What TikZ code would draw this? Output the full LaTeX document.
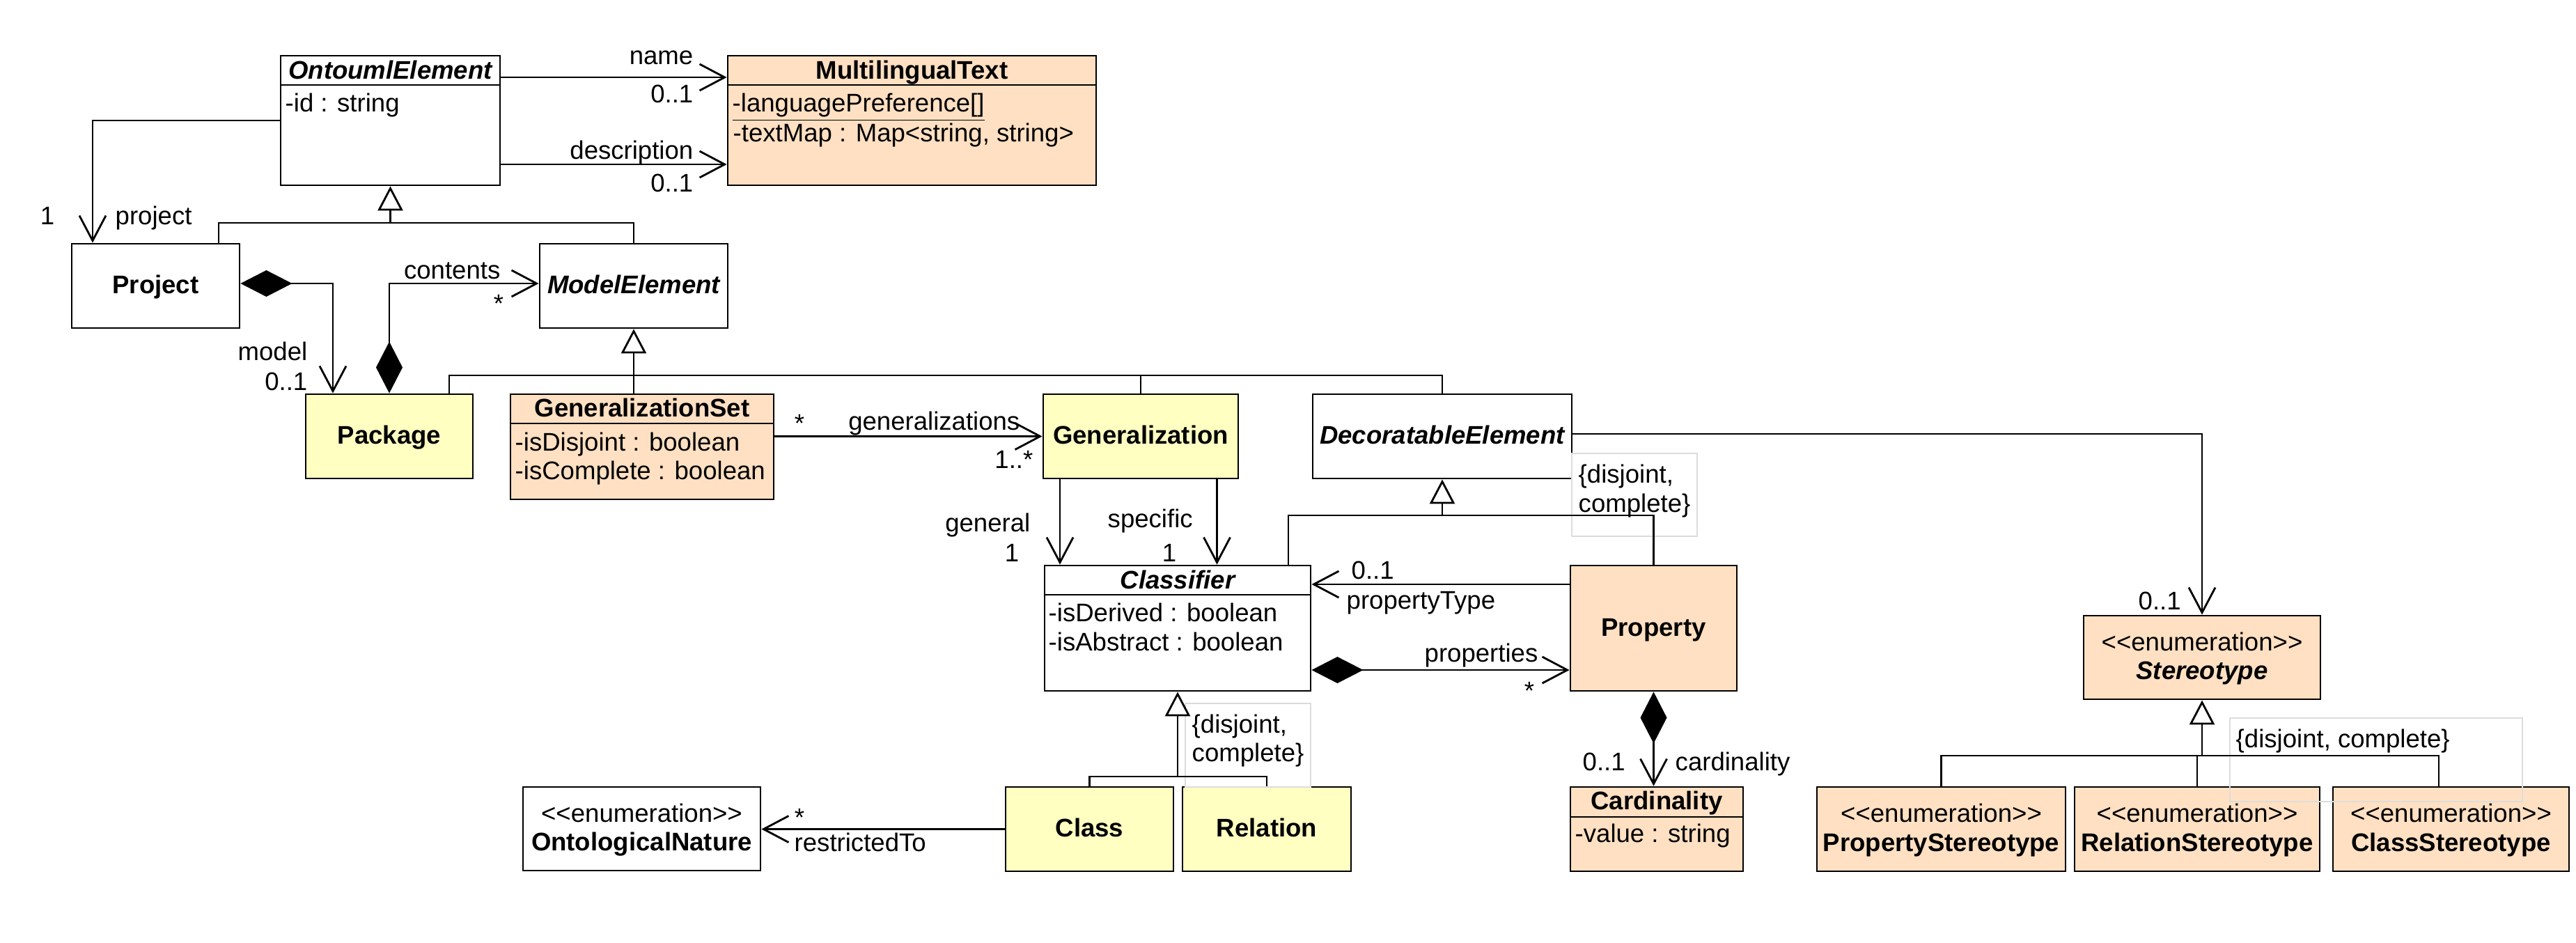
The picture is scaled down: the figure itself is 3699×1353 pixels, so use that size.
\documentclass[tikz,border=0pt]{standalone}
\usepackage{fontspec}
\setmainfont{Liberation Sans}
\usetikzlibrary{arrows.meta,fit}

\definecolor{clsyellow}{RGB}{255,255,194}
\definecolor{clspeach}{RGB}{255,224,194}
\definecolor{framegrey}{RGB}{220,220,220}

% stereotype tag, kerned so that << and >> stay two characters
\newcommand\enumtag{<\kern0pt<enumeration>\kern0pt>}

\tikzset{
  lbl/.style={inner sep=0pt, font=\fontsize{10.4}{12}\selectfont},
  ttl/.style={inner sep=0pt, font=\fontsize{10.4}{12}\selectfont\bfseries},
  ttlabs/.style={inner sep=0pt, font=\fontsize{10.4}{12}\selectfont\bfseries\itshape},
  umlbox/.style={draw, line width=0.8pt, inner sep=0pt, rectangle, fill=white},
  link/.style={line width=0.8pt},
  assoc/.style={link, -{Straight Barb[length=0.36cm, width=0.38cm]}},
  compo/.style={link, {Diamond[length=0.74cm, width=0.38cm]}-{Straight Barb[length=0.36cm, width=0.38cm]}},
  inherit/.style={link, -{Triangle[length=0.35cm, width=0.36cm, fill=white]}},
  divider/.style={line width=0.8pt},
  cframe/.style={draw=framegrey, line width=0.4pt, inner sep=0pt, rectangle},
  % one-line name in the middle of a box
  midname/.style={anchor=base, at={([yshift=-0.11cm]#1.center)}},
  % stereotype line and name line of an enumeration box
  tagline/.style={lbl, anchor=base, at={([yshift=0.10cm]#1.center)}},
  nameline/.style={anchor=base, at={([yshift=-0.315cm]#1.center)}},
}

\begin{document}
\begin{tikzpicture}[x=0.01cm, y=-0.01cm]
\useasboundingbox (0,0) rectangle (3699,1353);

% ---------- classes ----------
\node[umlbox, fit={(403,80) (718,266)}] (OE) {};
\node[umlbox, fill=clspeach, fit={(1045,80) (1574,266)}] (MT) {};
\node[umlbox, fit={(103,350) (344,471)}] (Prj) {};
\node[umlbox, fit={(775,350) (1045,471)}] (ME) {};
\node[umlbox, fill=clsyellow, fit={(439,566) (679,687)}] (Pkg) {};
\node[umlbox, fill=clspeach, fit={(733,566) (1111,717)}] (GS) {};
\node[umlbox, fill=clsyellow, fit={(1498,566) (1778,687)}] (Gen) {};
\node[umlbox, fit={(1885,566) (2257,687)}] (DE) {};
\node[umlbox, fit={(1500,812) (1882,992)}] (CF) {};
\node[umlbox, fill=clspeach, fit={(2255,812) (2494,992)}] (Prop) {};
\node[umlbox, fill=clspeach, fit={(2255,1130) (2503,1251)}] (Card) {};
\node[umlbox, fill=clsyellow, fit={(1444,1130) (1685,1251)}] (Cls) {};
\node[umlbox, fill=clsyellow, fit={(1698,1130) (1940,1251)}] (Rel) {};
\node[umlbox, fit={(751,1130) (1092,1250)}] (ON) {};
\node[umlbox, fill=clspeach, fit={(2992,884) (3332,1004)}] (ST) {};
\node[umlbox, fill=clspeach, fit={(2609,1130) (2966,1251)}] (PS) {};
\node[umlbox, fill=clspeach, fit={(2979,1130) (3331,1251)}] (RS) {};
\node[umlbox, fill=clspeach, fit={(3350,1130) (3689,1251)}] (CS) {};

% one-compartment names
\node[ttl, midname=Prj] (PrjT) {Project};
\node[ttlabs, midname=ME] (MET) {ModelElement};
\node[ttl, midname=Pkg] (PkgT) {Package};
\node[ttl, midname=Gen] (GenT) {Generalization};
\node[ttlabs, midname=DE] (DET) {DecoratableElement};
\node[ttl, midname=Prop] (PropT) {Property};
\node[ttl, midname=Cls] (ClsT) {Class};
\node[ttl, midname=Rel] (RelT) {Relation};

% enumerations
\node[tagline=ON] (ONs) {\enumtag};
\node[ttl, nameline=ON] (ONT) {OntologicalNature};
\node[tagline=ST] (STs) {\enumtag};
\node[ttlabs, nameline=ST] (STT) {Stereotype};
\node[tagline=PS] (PSs) {\enumtag};
\node[ttl, nameline=PS] (PST) {PropertyStereotype};
\node[tagline=RS] (RSs) {\enumtag};
\node[ttl, nameline=RS] (RST) {RelationStereotype};
\node[tagline=CS] (CSs) {\enumtag};
\node[ttl, nameline=CS] (CST) {ClassStereotype};

% compartments
\node[ttlabs, anchor=base] (OEt) at (560.5,113) {OntoumlElement};
\draw[divider] (OE.west |- 0,122) -- (OE.east |- 0,122);
\node[lbl, anchor=base west] (OEa) at (409,160) {-id : string};

\node[ttl, anchor=base] (MTt) at (1309.5,113) {MultilingualText};
\draw[divider] (MT.west |- 0,122) -- (MT.east |- 0,122);
\node[lbl, anchor=base west] (MTa) at (1051,160) {\underline{-languagePreference[]}};
\node[lbl, anchor=base west] (MTb) at (1052,203) {-textMap : Map<string, string>};

\node[ttl, anchor=base] (GSt) at (922,598) {GeneralizationSet};
\draw[divider] (GS.west |- 0,608) -- (GS.east |- 0,608);
\node[lbl, anchor=base west] (GSa) at (739,647) {-isDisjoint : boolean};
\node[lbl, anchor=base west] (GSb) at (739,688) {-isComplete : boolean};

\node[ttlabs, anchor=base] (CFt) at (1691,845) {Classifier};
\draw[divider] (CF.west |- 0,854) -- (CF.east |- 0,854);
\node[lbl, anchor=base west] (CFa) at (1505,892) {-isDerived : boolean};
\node[lbl, anchor=base west] (CFb) at (1505,934) {-isAbstract : boolean};

\node[ttl, anchor=base] (Cardt) at (2379,1162) {Cardinality};
\draw[divider] (Card.west |- 0,1173) -- (Card.east |- 0,1173);
\node[lbl, anchor=base west] (Carda) at (2261,1209) {-value : string};

% ---------- generalization set constraints ----------
\node[cframe, fit={(2257,651) (2437,770)}] (fr1) {};
\node[lbl, anchor=base west] (fr1a) at (2266,693) {\{disjoint,};
\node[lbl, anchor=base west] (fr1b) at (2266,735) {complete\}};
\node[cframe, fit={(1702,1010) (1882,1130)}] (fr2) {};
\node[lbl, anchor=base west] (fr2a) at (1711,1052) {\{disjoint,};
\node[lbl, anchor=base west] (fr2b) at (1711,1093) {complete\}};
\node[cframe, fit={(3202,1031) (3622,1151)}] (fr3) {};
\node[lbl, anchor=base west] (fr3a) at (3210,1073) {\{disjoint, complete\}};

% ---------- bends ----------
\coordinate (yName) at (0,111);
\coordinate (yDesc) at (0,236);
\coordinate (pjBend) at (133,173);
\coordinate (barA1) at (314,320);
\coordinate (barA2) at (910,320);
\coordinate (mdlBend) at (478,407);
\coordinate (cntY) at (0,407);
\coordinate (barB1) at (645,539);
\coordinate (xGeneral) at (1522,0);
\coordinate (xSpecific) at (1747.5,0);
\coordinate (barC1) at (1850,740);
\coordinate (yPT) at (0,839);
\coordinate (yProps) at (0,962);
\coordinate (yStereo) at (0,623);
\coordinate (barD) at (0,1115);
\coordinate (barE) at (0,1085);
\coordinate (barE2) at (3502,1085);

% ---------- associations ----------
\draw[assoc] (OE.east |- yName) -- (MT.west |- yName);
\draw[assoc] (OE.east |- yDesc) -- (MT.west |- yDesc);
\draw[assoc] (OE.west |- pjBend) -- (pjBend) -- (pjBend |- Prj.north);
\draw[compo] (Prj.east |- mdlBend) -- (mdlBend) -- (mdlBend |- Pkg.north);
\draw[compo] (Pkg.north) -- (Pkg.north |- cntY) -- (ME.west |- cntY);
\draw[assoc] (GS.east |- Gen.west) -- (Gen.west);
\draw[assoc] (Gen.south -| xGeneral) -- (CF.north -| xGeneral);
\draw[assoc] (Gen.south -| xSpecific) -- (CF.north -| xSpecific);
\draw[assoc] (Prop.west |- yPT) -- (CF.east |- yPT);
\draw[compo] (CF.east |- yProps) -- (Prop.west |- yProps);
\draw[compo] (Prop.south) -- (Prop.south |- Card.north);
\draw[assoc] (Cls.west) -- (ON.east |- Cls.west);
\draw[assoc] (DE.east |- yStereo) -| (ST.north);

% ---------- generalizations ----------
\draw[link] (barA1 |- Prj.north) -- (barA1) -- (barA2) -- (barA2 |- ME.north);
\draw[inherit] (OE.south |- barA1) -- (OE.south);

\draw[link] (barB1 |- Pkg.north) -- (barB1) -- (DE.north |- barB1) -- (DE.north);
\draw[link] (Gen.north |- barB1) -- (Gen.north);
\draw[inherit] (GS.north -| ME.south) -- (ME.south);

\draw[link] (barC1 |- CF.north) -- (barC1) -- (Prop.north |- barC1) -- (Prop.north);
\draw[inherit] (DE.south |- barC1) -- (DE.south);

\draw[link] (Cls.north) -- (Cls.north |- barD) -- (Rel.north |- barD) -- (Rel.north);
\draw[inherit] (CF.south |- barD) -- (CF.south);

\draw[link] (PS.north) -- (PS.north |- barE) -- (barE2) -- (barE2 |- CS.north);
\draw[link] (RS.north |- barE) -- (RS.north);
\draw[inherit] (ST.south |- barE) -- (ST.south);

% ---------- role names and multiplicities ----------
\node[lbl, anchor=base east] (lName) at (996,92) {name};
\node[lbl, anchor=base east] (mName) at (996,147) {0..1};
\node[lbl, anchor=base east] (lDesc) at (996,228) {description};
\node[lbl, anchor=base east] (mDesc) at (996,275) {0..1};
\node[lbl, anchor=base] (mProj) at (68,322) {1};
\node[lbl, anchor=base west] (lProj) at (165,322) {project};
\node[lbl, anchor=base east] (lModel) at (442,517) {model};
\node[lbl, anchor=base east] (mModel) at (442,560) {0..1};
\node[lbl, anchor=base east] (lCont) at (719,400) {contents};
\node[lbl, anchor=base] (mCont) at (716,448) {*};
\node[lbl, anchor=base] (mGS) at (1148,620) {*};
\node[lbl, anchor=base east] (lGens) at (1465,617) {generalizations};
\node[lbl, anchor=base east] (mGens) at (1484,672) {1..*};
\node[lbl, anchor=base east] (lGenl) at (1480,763) {general};
\node[lbl, anchor=base] (mGenl) at (1453,806) {1};
\node[lbl, anchor=base west] (lSpec) at (1590,757) {specific};
\node[lbl, anchor=base] (mSpec) at (1679,806) {1};
\node[lbl, anchor=base west] (mPT) at (1940,831) {0..1};
\node[lbl, anchor=base west] (lPT) at (1933,874) {propertyType};
\node[lbl, anchor=base west] (lProps) at (2045,950) {properties};
\node[lbl, anchor=base] (mProps) at (2196,1004) {*};
\node[lbl, anchor=base west] (mCard) at (2272,1106) {0..1};
\node[lbl, anchor=base west] (lCard) at (2405,1106) {cardinality};
\node[lbl, anchor=base] (mRes) at (1148,1186) {*};
\node[lbl, anchor=base west] (lRes) at (1140,1222) {restrictedTo};
\node[lbl, anchor=base west] (mSt) at (3070,875) {0..1};
\end{tikzpicture}
\end{document}
